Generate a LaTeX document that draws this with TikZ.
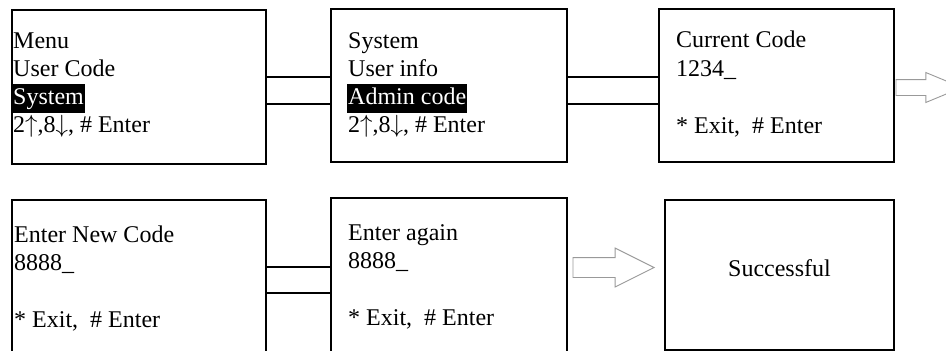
\documentclass[tikz,border=0pt]{standalone}
\usepackage{fontspec}
\setmainfont{Liberation Serif}
\usetikzlibrary{shapes.arrows}

\begin{document}
\begin{tikzpicture}
    [x=1pt, y=-1pt, font=\fontsize{24}{28}\selectfont,
     screen/.style={rectangle, draw, line width=1.1pt, inner sep=0pt},
     txtrow/.style={anchor=base west, inner sep=0pt},
     sel/.style={txtrow, fill=black, text=white, inner xsep=1pt, inner ysep=0pt, text height=20pt, text depth=9pt},
     hollow/.style={single arrow, draw=gray!80, line width=0.9pt, inner xsep=0pt, single arrow head indent=0pt, anchor=tail}]
    \useasboundingbox (0,0) rectangle (946,351);
    \clip (0,0) rectangle (946,351);

    % top row
    \node[screen, minimum width=254, minimum height=154] (menu) at (139,87) {};
    \node[screen, minimum width=236, minimum height=153] (sysmenu) at (449,85.5) {};
    \node[screen, minimum width=235, minimum height=153] (current) at (776.5,85.5) {};

    \node[txtrow] (m1) at (13,48) {Menu};
    \node[txtrow] (m2) at (13,76) {User Code};
    \node[sel] (m3) at (12,104) {System\ };
    \node[txtrow] (m4) at (13,132) {2$\uparrow$,8$\downarrow$, \# Enter};

    \node[txtrow] (s1) at (348,48) {System};
    \node[txtrow] (s2) at (348,76) {User info};
    \node[sel] (s3) at (347,104) {Admin code\ };
    \node[txtrow] (s4) at (348,132) {2$\uparrow$,8$\downarrow$, \# Enter};

    \node[txtrow] (c1) at (676,47) {Current Code};
    \node[txtrow] (c2) at (676,76) {1234\_};
    \node[txtrow] (c3) at (676,133) {* Exit,\ \ \# Enter};

    \draw[line width=1.1pt] (menu.east |- 0,77) rectangle (sysmenu.west |- 0,104);
    \draw[line width=1.1pt] (sysmenu.east |- 0,77) rectangle (current.west |- 0,104);
    \node[hollow, inner ysep=7.5, single arrow head extend=7, single arrow tip angle=45, minimum height=66] (out) at ([xshift=1]current.east |- 0,87.5) {};

    % bottom row
    \node[screen, minimum width=254, minimum height=160] (newcode) at (139,280) {};
    \node[screen, minimum width=236, minimum height=162] (again) at (449,279) {};
    \node[screen, minimum width=229, minimum height=150] (done) at (779.5,275) {};

    \node[txtrow] (n1) at (14,242) {Enter New Code};
    \node[txtrow] (n2) at (14,270) {8888\_};
    \node[txtrow] (n3) at (14,327) {* Exit,\ \ \# Enter};

    \node[txtrow] (a1) at (348,240) {Enter again};
    \node[txtrow] (a2) at (348,268) {8888\_};
    \node[txtrow] (a3) at (348,325) {* Exit,\ \ \# Enter};

    \node[anchor=base] (donetxt) at (779.5,276.5) {Successful};

    \draw[line width=1.1pt] (newcode.east |- 0,267) rectangle (again.west |- 0,293);
    \node[hollow, inner ysep=9.5, single arrow head extend=9.5, single arrow tip angle=53.13, minimum height=81] (ok) at ([xshift=5]again.east |- 0,267.5) {};

\end{tikzpicture}
\end{document}
